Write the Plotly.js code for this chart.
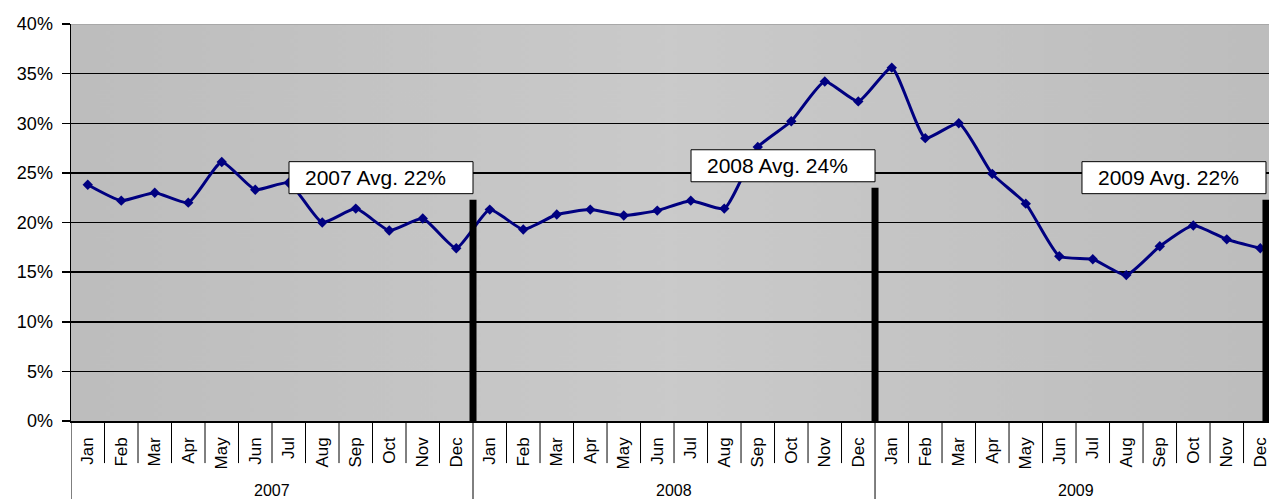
<!DOCTYPE html>
<html><head><meta charset="utf-8">
<script src="https://cdn.plot.ly/plotly-3.0.1.min.js"></script>
<style>html,body{margin:0;padding:0;background:#fff;}#chart{width:1269px;height:499px;}</style>
</head><body><div id="chart"></div>
<script>
const months = ['Jan','Feb','Mar','Apr','May','Jun','Jul','Aug','Sep','Oct','Nov','Dec'];
const years = ['2007','2008','2009'];
const rate2007 = [23.8,22.2,23.0,22.0,26.1,23.3,24.0,20.0,21.4,19.2,20.4,17.4];
const rate2008 = [21.3,19.3,20.8,21.3,20.7,21.2,22.2,21.4,27.6,30.2,34.2,32.2];
const rate2009 = [35.6,28.5,30.0,24.9,21.9,16.6,16.3,14.7,17.6,19.7,18.3,17.4];
const yearAvg = [22.3,23.5,22.3];
const yTicks = [0,5,10,15,20,25,30,35,40];
const yTickText = yTicks.map(v => v + '%');

const FONT = 'Liberation Sans, Arial, sans-serif';
const allRates = rate2007.concat(rate2008, rate2009);
const xIdx = allRates.map((_, i) => i);
const tickText = years.flatMap(() => months);
const xMax = allRates.length - 0.74;

function bgImage(){
  const c = document.createElement('canvas'); c.width = 600; c.height = 200;
  const g = c.getContext('2d');
  const gr = g.createLinearGradient(0, 0, 600, 0);
  gr.addColorStop(0, '#bdbdbd'); gr.addColorStop(0.5, '#cacaca'); gr.addColorStop(1, '#bdbdbd');
  g.fillStyle = gr; g.fillRect(0, 0, 600, 200);
  return c.toDataURL();
}

const shapes = [];
const annotations = [];
// month boundary ticks and year dividers
for (let i = 0; i < allRates.length; i++) {
  const b = i - 0.5;
  const isYear = i % months.length === 0;
  shapes.push({type:'line', xref:'x', yref:'paper', x0:b, x1:b, y0:0, y1: isYear ? -0.25 : -0.106,
    line:{color:'#000', width:1}, layer:'above'});
}
// top border
shapes.push({type:'line', xref:'paper', yref:'y', x0:0, x1:1, y0:yTicks[yTicks.length-1], y1:yTicks[yTicks.length-1],
  line:{color:'#a8a8a8', width:2}, layer:'above'});
// year average bars, boxes and labels
years.forEach((yr, k) => {
  let pos = (k + 1) * months.length - 0.5;
  if (pos > xMax) pos = xMax - 0.09;
  const avg = yearAvg[k];
  shapes.push({type:'line', xref:'x', yref:'y', x0:pos, x1:pos, y0:0, y1:avg,
    line:{color:'#000', width:7}, layer:'above'});
  shapes.push({type:'rect', xref:'x', yref:'y', xsizemode:'pixel', ysizemode:'pixel',
    xanchor:pos, yanchor:avg, x0:-184, x1:0, y0:6, y1:38,
    fillcolor:'#fff', line:{color:'#000', width:1}, layer:'above'});
  annotations.push({x:pos, y:avg, xref:'x', yref:'y', xanchor:'left', yanchor:'middle',
    xshift:-170, yshift:22, showarrow:false, text: yr + ' Avg. ' + Math.round(avg) + '%',
    font:{family:FONT, size:21, color:'#000'}});
  annotations.push({x:k * months.length + (months.length - 1) / 2, y:0, xref:'x', yref:'paper',
    yanchor:'middle', yshift:-69, showarrow:false, text:yr, font:{family:FONT, size:16, color:'#000'}});
});

const trace = {
  x: xIdx, y: allRates, type:'scatter', mode:'lines+markers',
  line:{color:'#000080', width:3, shape:'spline', smoothing:0.5},
  marker:{symbol:'diamond', size:8, color:'#000080'},
  hoverinfo:'skip'
};

const layout = {
  width:1269, height:499,
  margin:{l:71, r:0, t:24, b:78},
  paper_bgcolor:'#fff', plot_bgcolor:'#c4c4c4',
  showlegend:false,
  font:{family:FONT, size:16, color:'#000'},
  xaxis:{range:[-0.5, xMax], tickmode:'array', tickvals:xIdx, ticktext:tickText,
    tickangle:-90, ticks:'', showgrid:false, zeroline:false, showline:true,
    linecolor:'#000', linewidth:1.5, tickfont:{family:FONT, size:17, color:'#000'},
    ticklabelstandoff:8, ticklabeloverflow:'allow', automargin:false, fixedrange:true},
  yaxis:{range:[0, 40], tickmode:'array', tickvals:yTicks, ticktext:yTickText,
    ticks:'outside', ticklen:8, tickwidth:1.5, tickcolor:'#000',
    showgrid:true, gridcolor:'#000', gridwidth:1.5, zeroline:false,
    showline:true, linecolor:'#000', linewidth:1.5,
    tickfont:{family:FONT, size:18, color:'#000'}, ticklabelstandoff:5,
    ticklabeloverflow:'allow', automargin:false, fixedrange:true},
  images:[{source:bgImage(), xref:'paper', yref:'paper', x:0, y:1, sizex:1, sizey:1,
    xanchor:'left', yanchor:'top', sizing:'stretch', layer:'below'}],
  shapes: shapes,
  annotations: annotations
};

Plotly.newPlot('chart', [trace], layout, {staticPlot:true, displayModeBar:false});
</script>
</body></html>
